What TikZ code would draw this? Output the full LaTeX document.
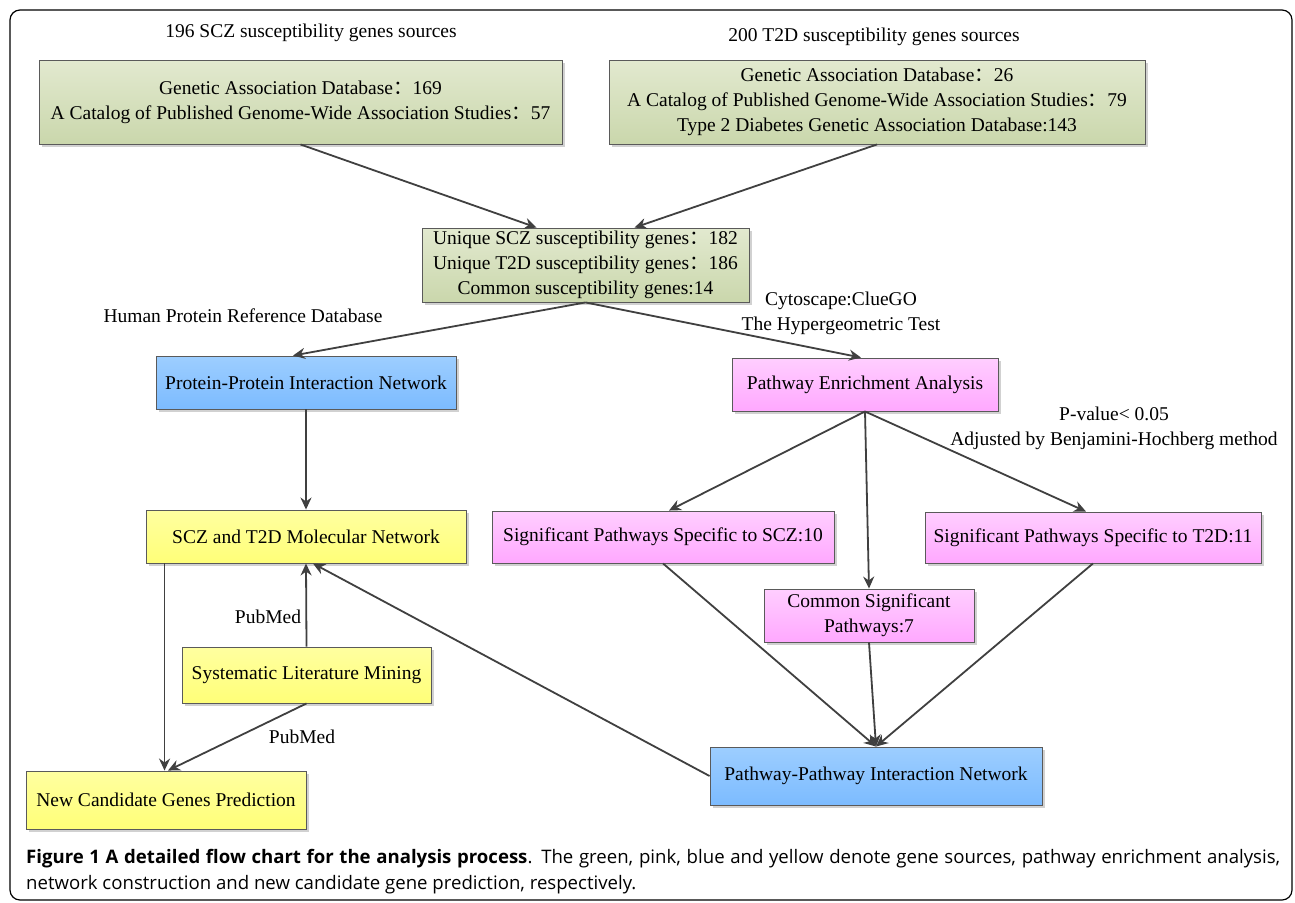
\documentclass[tikz,border=0pt]{standalone}
\usepackage{fontspec}
\setmainfont{Liberation Serif}
\newfontfamily\capfont{Open Sans}
\newfontfamily\cjk{Noto Sans CJK SC}
\usetikzlibrary{shadows,calc,arrows.meta}
\newcommand{\fwc}{{\cjk ：}}
\definecolor{edgegray}{HTML}{404040}
\definecolor{boxline}{HTML}{5A5A5A}
\definecolor{greentop}{RGB}{226,233,207}
\definecolor{greenbot}{RGB}{202,215,172}
\definecolor{bluetop}{RGB}{157,206,255}
\definecolor{bluebot}{RGB}{124,187,255}
\definecolor{pinktop}{RGB}{255,206,255}
\definecolor{pinkbot}{RGB}{255,168,255}
\definecolor{yellowtop}{RGB}{255,255,160}
\definecolor{yellowbot}{RGB}{255,255,120}
\tikzset{
  box/.style={draw=boxline, line width=0.9pt, inner sep=2pt, align=center,
    font=\fontsize{19.5}{25}\selectfont,
    drop shadow={shadow xshift=3pt, shadow yshift=-3pt, fill=black, opacity=0.18}},
  greenbox/.style={box, top color=greentop, bottom color=greenbot},
  bluebox/.style={box, top color=bluetop, bottom color=bluebot},
  pinkbox/.style={box, top color=pinktop, bottom color=pinkbot},
  yellowbox/.style={box, top color=yellowtop, bottom color=yellowbot},
  lbl/.style={font=\fontsize{19.5}{25}\selectfont, inner sep=0pt, align=center},
  arr/.style={draw=edgegray, line width=1.8pt, -{Stealth[length=12pt,width=11pt]}},
}
\begin{document}
\begin{tikzpicture}[x=1pt,y=-1pt]
\useasboundingbox (0,0) rectangle (1295,902);
\fill[white] (0,0) rectangle (1295,902);
% outer frame
\draw[line width=1.2pt, rounded corners=10pt] (10,10) rectangle (1292,900);

% gene sources
\node[lbl] (t1) at (311,33) {196 SCZ susceptibility genes sources};
\node[lbl] (t2) at (874,37) {200 T2D susceptibility genes sources};
\node[greenbox, minimum width=523pt, minimum height=84pt] (b1) at (300.5,102)
  {Genetic Association Database\fwc169\\A Catalog of Published Genome-Wide Association Studies\fwc57};
\node[greenbox, minimum width=536pt, minimum height=84pt] (b2) at (877,102)
  {Genetic Association Database\fwc26\\A Catalog of Published Genome-Wide Association Studies\fwc79\\Type 2 Diabetes Genetic Association Database:143};
\node[greenbox, minimum width=327pt, minimum height=74pt] (b3) at (585.5,265)
  {Unique SCZ susceptibility genes\fwc182\\Unique T2D susceptibility genes\fwc186\\Common susceptibility genes:14};

% analysis boxes
\node[bluebox, minimum width=300pt, minimum height=53pt] (ppi) at (306,382.5) {Protein-Protein Interaction Network};
\node[pinkbox, minimum width=266pt, minimum height=53pt] (pea) at (865,384.5) {Pathway Enrichment Analysis};
\node[yellowbox, minimum width=320pt, minimum height=53pt] (mol) at (306,536.5) {SCZ and T2D Molecular Network};
\node[pinkbox, minimum width=342pt, minimum height=52pt] (sscz) at (663,537) {Significant Pathways Specific to SCZ:10};
\node[pinkbox, minimum width=336pt, minimum height=51pt] (st2d) at (1093,537.5) {Significant Pathways Specific to T2D:11};
\node[pinkbox, minimum width=210pt, minimum height=53pt] (com) at (869,615.5) {Common Significant\\Pathways:7};
\node[yellowbox, minimum width=249pt, minimum height=56pt] (lit) at (306.5,675) {Systematic Literature Mining};
\node[yellowbox, minimum width=280pt, minimum height=58pt] (ncg) at (166,800) {New Candidate Genes Prediction};
\node[bluebox, minimum width=332pt, minimum height=58pt] (ppn) at (876,776) {Pathway-Pathway Interaction Network};

% edge labels
\node[lbl] (l1) at (243,316) {Human Protein Reference Database};
\node[lbl] (l2) at (841,313) {Cytoscape:ClueGO\\The Hypergeometric Test};
\node[lbl] (l3) at (1114,428.5) {P-value< 0.05\\Adjusted by Benjamini-Hochberg method};
\node[lbl] (l4) at (268,617) {PubMed};
\node[lbl] (l5) at (302,737) {PubMed};

% connectors
\draw[arr] (b1.south) -- ($(b3.north west)+(115,0)$);
\draw[arr] (b2.south) -- ($(b3.north west)+(213,0)$);
\draw[arr] (b3.south) -- ($(ppi.north)+(-13,0)$);
\draw[arr] (b3.south) -- ($(pea.north)+(-4,0)$);
\draw[arr] (ppi.south) -- (mol.north);
\draw[arr] (pea.south) -- ($(sscz.north)+(6,0)$);
\draw[arr] (pea.south) -- (com.north);
\draw[arr] (pea.south) -- ($(st2d.north)+(-7,0)$);
\coordinate (molout) at ($(mol.south west)+(19,0)$);
\draw[arr] (molout) -- (molout |- ncg.north);
\draw[arr] (lit.north) -- (mol.south);
\draw[arr] (lit.south) -- ($(ncg.north)+(2,0)$);
\draw[arr] (ppn.west) -- ($(mol.south)+(7,0)$);
\draw[arr] (sscz.south) -- (ppn.north);
\draw[arr] (com.south) -- (ppn.north);
\draw[arr] (st2d.south) -- (ppn.north);

% caption
\node[anchor=north west, inner sep=0pt, text width=1254pt, align=justify,
  font=\capfont\fontsize{18.6}{26}\selectfont] (cap) at (26,849)
  {\textbf{Figure 1 A detailed flow chart for the analysis process}. The green, pink, blue and yellow denote gene sources, pathway enrichment analysis,\linebreak network construction and new candidate gene prediction, respectively.};
\end{tikzpicture}
\end{document}
